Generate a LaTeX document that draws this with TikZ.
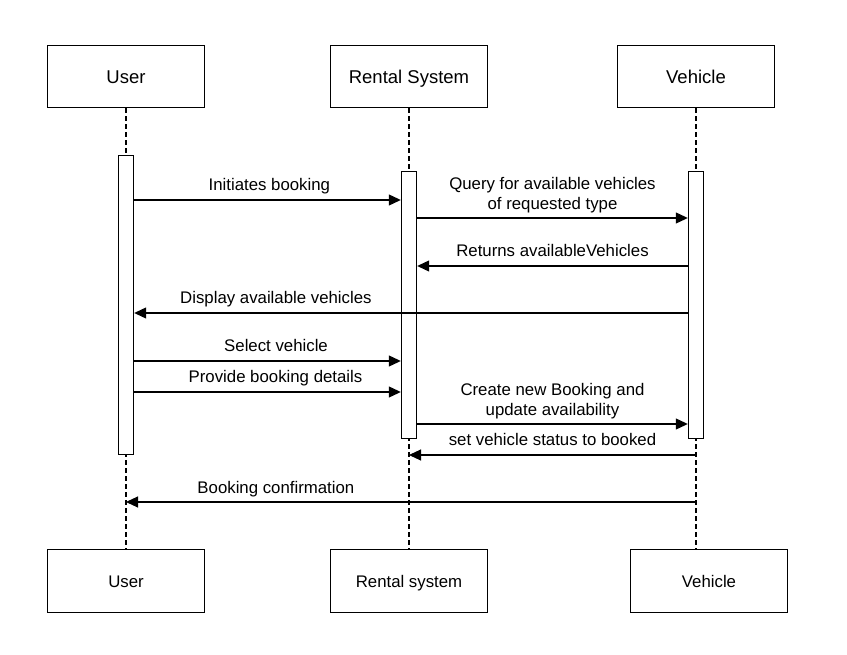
\documentclass[tikz,border=0pt]{standalone}
\usepackage{fontspec}
\setmainfont{Liberation Sans}
\usetikzlibrary{arrows.meta}

\begin{document}
\begin{tikzpicture}[x=1pt,y=-1pt]
      \useasboundingbox (0,0) rectangle (847,655);
      \begin{scope}[every node/.style={rectangle,draw,line width=1.4pt,minimum width=157pt,inner sep=0pt,text depth=0pt}]
        \node[minimum height=62pt,text height=13.3pt,font=\fontsize{18.5}{22}\selectfont] (user) at (126,76.5) {User};
        \node[minimum height=62pt,text height=13.3pt,font=\fontsize{18.5}{22}\selectfont] (rental) at (409,76.5) {Rental System};
        \node[minimum height=62pt,text height=13.3pt,font=\fontsize{18.5}{22}\selectfont] (vehicle) at (696,76.5) {Vehicle};
        \node[minimum height=63pt,text height=12pt,font=\fontsize{16.8}{20}\selectfont] (user2) at (126,581) {User};
        \node[minimum height=63pt,text height=12pt,font=\fontsize{16.8}{20}\selectfont] (rental2) at (409,581) {Rental system};
        \node[minimum height=63pt,text height=12pt,font=\fontsize{16.8}{20}\selectfont] (vehicle2) at (709,581) {Vehicle};
      \end{scope}
      \begin{scope}[line width=1.3pt,dash pattern=on 4.5pt off 3.5pt]
        \draw (user.south) -- (user2.north);
        \draw (rental.south) -- (rental2.north);
        \draw (vehicle.south) -- (vehicle.south |- vehicle2.north);
      \end{scope}
      \begin{scope}[every node/.style={rectangle,draw,fill=white,line width=1.4pt,minimum width=15pt,inner sep=0pt}]
        \node[minimum height=299pt] (actU) at (126,305) {};
        \node[minimum height=267pt] (actR) at (409,305) {};
        \node[minimum height=267pt] (actV) at (696,305) {};
      \end{scope}
      \begin{scope}[every edge/.style={draw,line width=1.1pt,-{Triangle[length=12pt,width=11pt]}},
                    every node/.style={font=\fontsize{16.8}{20}\selectfont,inner sep=0pt,anchor=base,yshift=9pt}]
        \path (actU.east |- 0,200) edge node[pos=0.507] {Initiates booking} (actR.west |- 0,200);
        \path (actR.east |- 0,218) edge node[align=center,anchor=south,yshift=-4.5pt] {Query for available vehicles\\of requested type} (actV.west |- 0,218);
        \path (actV.west |- 0,266) edge node {Returns availableVehicles} (actR.east |- 0,266);
        \path (actV.west |- 0,313) edge node[pos=0.744] {Display available vehicles} (actU.east |- 0,313);
        \path (actU.east |- 0,361) edge node[pos=0.532] {Select vehicle} (actR.west |- 0,361);
        \path (actU.east |- 0,392) edge node[pos=0.53] {Provide booking details} (actR.west |- 0,392);
        \path (actR.east |- 0,424) edge node[align=center,anchor=south,yshift=-4.5pt] {Create new Booking and\\update availability} (actV.west |- 0,424);
        \path (vehicle.south |- 0,455) edge node {set vehicle status to booked} (rental.south |- 0,455);
        \path (vehicle.south |- 0,502) edge node[pos=0.737] {Booking confirmation} (user.south |- 0,502);
      \end{scope}
    \end{tikzpicture}
\end{document}
